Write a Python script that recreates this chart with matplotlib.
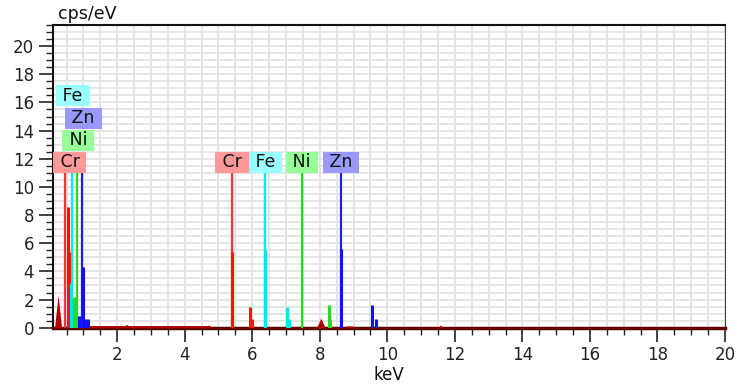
import matplotlib
matplotlib.use('Agg')
import matplotlib.pyplot as plt
from matplotlib.ticker import MultipleLocator

# element marker lines (keV) and label colours
elements = ['Cr', 'Fe', 'Ni', 'Zn']
k_lines = [5.40, 6.39, 7.47, 8.63]
l_lines = [0.45, 0.67, 0.82, 0.96]
line_colors = ['#ff3030', '#00eeee', '#22dd22', '#2020ee']
box_colors = ['#ff9999', '#99ffff', '#99ff99', '#9999ff']
marker_height = 11.0

# stacked labels for the L lines (x centre keV, y centre cps/eV)
l_label_x = [0.60, 0.69, 0.85, 1.0]
l_label_y = [11.76, 16.48, 13.3, 14.87]

# element peaks
cr_kev = [0.53, 0.57, 5.40, 5.93, 5.98]
cr_cps = [8.6, 5.4, 5.4, 1.5, 0.6]
fe_kev = [0.62, 0.64, 6.38, 7.02, 7.09]
fe_cps = [3.2, 3.0, 5.5, 1.5, 0.6]
ni_kev = [0.73, 0.86, 8.27, 8.31]
ni_cps = [2.2, 0.85, 1.6, 0.6]
zn_kev = [0.88, 1.00, 1.06, 1.14, 8.62, 9.54, 9.66]
zn_cps = [0.8, 4.3, 0.6, 0.6, 5.6, 1.6, 0.6]

# unassigned background spectrum (dark red)
bg_kev = [0.10, 0.15, 0.20, 0.25, 0.30, 0.35, 0.40, 1.14, 1.15, 2.22, 2.28, 2.34,
          4.68, 4.72, 4.76, 4.80, 7.90, 7.96, 8.03, 8.10, 8.16, 8.76, 8.78, 8.98,
          9.00, 11.52, 11.58, 11.64, 20.0]
bg_cps = [0.0, 0.1, 1.2, 2.3, 1.2, 0.1, 0.0, 0.0, 0.15, 0.15, 0.22, 0.15,
          0.15, 0.18, 0.12, 0.02, 0.02, 0.3, 0.67, 0.3, 0.02, 0.02, 0.12, 0.12,
          0.02, 0.02, 0.2, 0.02, 0.02]

plt.rcParams['font.family'] = 'DejaVu Sans'

fig = plt.figure(figsize=(7.39, 3.88), dpi=100)
ax = fig.add_axes([53 / 739, (388 - 327.7) / 388, (725 - 53) / 739, (327.7 - 25) / 388])

ax.set_xlim(0.1, 20)
ax.set_ylim(0, 21.5)

ax.xaxis.set_major_locator(MultipleLocator(2))
ax.xaxis.set_minor_locator(MultipleLocator(0.5))
ax.yaxis.set_major_locator(MultipleLocator(2))
ax.yaxis.set_minor_locator(MultipleLocator(0.5))
ax.grid(True, which='both', color='#e3e3e3', lw=1.3, zorder=0)
ax.set_axisbelow(True)

ax.tick_params(which='major', direction='out', length=10, width=1.2, labelsize=12,
               colors='#222222')
ax.tick_params(which='minor', direction='out', length=5, width=1.0, colors='#222222')
ax.set_xticks([2, 4, 6, 8, 10, 12, 14, 16, 18, 20])

for side in ['left', 'top']:
    ax.spines[side].set_color('#111111')
    ax.spines[side].set_linewidth(1.5)
ax.spines['right'].set_color('#444444')
ax.spines['bottom'].set_color('#600000')
ax.spines['bottom'].set_linewidth(2.5)

# background spectrum
ax.fill_between(bg_kev, bg_cps, color='#b00000', lw=0, zorder=3)

# marker lines
ax.vlines(k_lines[1] - 0.035, 0, marker_height, color='#b0b0b0', lw=1.0, zorder=4)
for x, c in zip(k_lines + l_lines, line_colors + line_colors):
    ax.vlines(x, 0, marker_height, color=c, lw=1.6, zorder=4)

# element peaks
for xs, ys, c in [(cr_kev, cr_cps, '#ff1010'), (fe_kev, fe_cps, '#00e5e5'),
                  (ni_kev, ni_cps, '#22dd22'), (zn_kev, zn_cps, '#1010ff')]:
    ax.vlines(xs, 0, ys, color=c, lw=2.2, zorder=5)

# labels
for name, x, c in zip(elements, k_lines, box_colors):
    ax.text(x, 11.76, ' ' + name + ' ', ha='center', va='center', fontsize=12.5,
            color='#111111', zorder=6,
            bbox=dict(boxstyle='square,pad=0.08', fc=c, ec='none'))
for name, x, y, c in zip(elements, l_label_x, l_label_y, box_colors):
    ax.text(x, y, ' ' + name + ' ', ha='center', va='center', fontsize=12.5,
            color='#111111', zorder=6, clip_on=False,
            bbox=dict(boxstyle='square,pad=0.08', fc=c, ec='none'))

ax.text(0.008, 1.008, 'cps/eV', transform=ax.transAxes, fontsize=12.5,
        ha='left', va='bottom', color='#111111')
ax.set_xlabel('keV', fontsize=12, labelpad=1, color='#111111')

fig.savefig('out.png', dpi=100)
